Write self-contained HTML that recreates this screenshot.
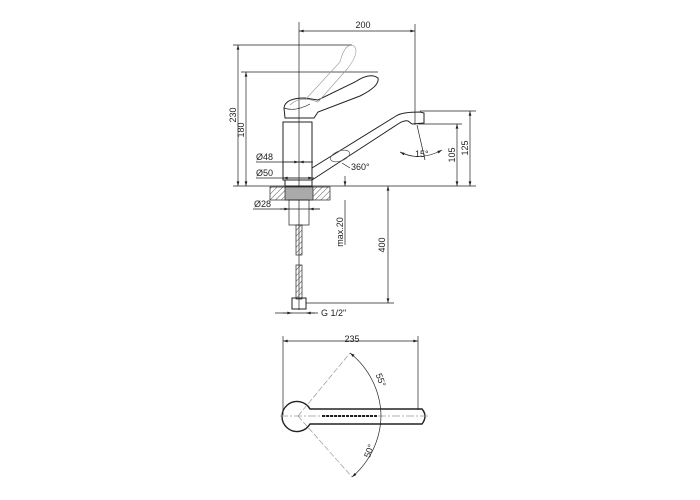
<!DOCTYPE html>
<html><head><style>body{margin:0;background:#fff}svg{display:block}text{font-family:"Liberation Sans",sans-serif;font-size:9px;fill:#222}</style></head>
<body>
<svg width="700" height="500" viewBox="0 0 700 500" xmlns="http://www.w3.org/2000/svg">
<defs>
<marker id="a" viewBox="0 0 10 6" refX="10" refY="3" markerWidth="8" markerHeight="4" orient="auto-start-reverse"><path d="M0,0L10,3L0,6z" fill="#222"/></marker>
<pattern id="h" width="4" height="4" patternUnits="userSpaceOnUse" patternTransform="rotate(45)"><line x1="0" y1="0" x2="0" y2="4" stroke="#555" stroke-width="1"/></pattern>
</defs>
<g stroke="#222" stroke-width="0.7" fill="none">
<line x1="299" y1="22" x2="299" y2="310"/>
<line x1="415" y1="24" x2="415" y2="125"/>
<line x1="233" y1="45" x2="352" y2="45"/>
<line x1="241" y1="72" x2="378" y2="72"/>
<line x1="233" y1="186" x2="476" y2="186"/>
<line x1="420" y1="111" x2="476" y2="111"/>
<line x1="418" y1="124" x2="462" y2="124"/>
<line x1="306" y1="303" x2="394" y2="303"/>
<line x1="299" y1="31" x2="415" y2="31" marker-start="url(#a)" marker-end="url(#a)"/>
<line x1="238" y1="45" x2="238" y2="186" marker-start="url(#a)" marker-end="url(#a)"/>
<line x1="246" y1="72" x2="246" y2="186" marker-start="url(#a)" marker-end="url(#a)"/>
<line x1="470" y1="111" x2="470" y2="186" marker-start="url(#a)" marker-end="url(#a)"/>
<line x1="457" y1="124" x2="457" y2="186" marker-start="url(#a)" marker-end="url(#a)"/>
<line x1="388" y1="186" x2="388" y2="303" marker-start="url(#a)" marker-end="url(#a)"/>
<line x1="345" y1="176" x2="345" y2="186" marker-end="url(#a)"/>
<line x1="345" y1="200" x2="345" y2="245"/>
<line x1="256" y1="162" x2="313" y2="162"/>
<line x1="283" y1="162" x2="299" y2="162" marker-end="url(#a)"/>
<line x1="312" y1="162" x2="299" y2="162" marker-end="url(#a)"/>
<line x1="256" y1="178" x2="314" y2="178"/>
<line x1="298" y1="178" x2="283" y2="178" marker-end="url(#a)"/>
<line x1="299" y1="178" x2="313" y2="178" marker-end="url(#a)"/>
<line x1="253" y1="209" x2="320" y2="209"/>
<line x1="280" y1="209" x2="289" y2="209" marker-end="url(#a)"/>
<line x1="320" y1="209" x2="309" y2="209" marker-end="url(#a)"/>
<line x1="275" y1="313" x2="318" y2="313"/>
<line x1="283" y1="313" x2="292" y2="313" marker-end="url(#a)"/>
<line x1="315" y1="313" x2="306" y2="313" marker-end="url(#a)"/>
<path d="M400,152 Q420,162 442,150" marker-start="url(#a)" marker-end="url(#a)"/>
<line x1="417" y1="125" x2="425" y2="160"/>
<rect x="283" y="122" width="29" height="58" stroke-width="1"/>
<rect x="285" y="180" width="27" height="6" stroke-width="1"/>
<path d="M284,108 Q285,98 305,98 L318,100 L355,82 Q370,72 378,78 Q380,86 360,96 L318,112 L314,118 L285,118 Z" stroke-width="1"/>
<path d="M284,108 Q295,112 310,104" />
<path d="M290,105 Q300,95 318,102" stroke="#999"/>
<path d="M305,100 L340,62 Q345,42 354,46 Q360,52 348,68 L318,102" stroke="#999" stroke-width="0.6"/>
<path d="M312,168 L396,116 Q402,112 420,112 L424,113 L424,123 L412,124 L408,121 Q404,120 398,124 L312,180" stroke-width="1"/>
<ellipse cx="340" cy="156" rx="10" ry="5" transform="rotate(-20 340 156)" stroke="#555"/>
<line x1="342" y1="163" x2="350" y2="168"/>
<rect x="270" y="187" width="60" height="13" fill="url(#h)"/>
<rect x="285" y="187" width="28" height="13" fill="#aaa"/>
<rect x="289" y="200" width="20" height="25"/>
<rect x="296" y="225" width="6" height="30" fill="url(#h)"/>
<rect x="296" y="265" width="6" height="34" fill="url(#h)"/>
<rect x="292" y="298" width="14" height="11" stroke-width="1"/>
<line x1="283" y1="341" x2="418" y2="341" marker-start="url(#a)" marker-end="url(#a)"/>
<line x1="283" y1="336" x2="283" y2="415"/>
<line x1="418" y1="336" x2="418" y2="410"/>
<path d="M310,409 L422,409 Q428,416 422,424 L310,424 A15,15 0 1 1 310,409 Z" stroke-width="1.4"/>
<line x1="280" y1="416" x2="430" y2="416" stroke="#999" stroke-dasharray="8,2,2,2"/>
<line x1="322" y1="416" x2="378" y2="416" stroke-width="2" stroke-dasharray="3,1"/>
<line x1="298" y1="416" x2="350" y2="353" stroke="#999" stroke-dasharray="6,2"/>
<line x1="298" y1="416" x2="352" y2="477" stroke="#999" stroke-dasharray="6,2"/>
<path d="M350,353 A82,82 0 0 1 381,416 A82,82 0 0 1 352,477" marker-start="url(#a)" marker-end="url(#a)"/>
</g>
<text x="363" y="28" text-anchor="middle">200</text>
<text x="236" y="115" transform="rotate(-90 236 115)" text-anchor="middle">230</text>
<text x="244" y="130" transform="rotate(-90 244 130)" text-anchor="middle">180</text>
<text x="468" y="148" transform="rotate(-90 468 148)" text-anchor="middle">125</text>
<text x="455" y="155" transform="rotate(-90 455 155)" text-anchor="middle">105</text>
<text x="385" y="245" transform="rotate(-90 385 245)" text-anchor="middle">400</text>
<text x="343" y="232" transform="rotate(-90 343 232)" text-anchor="middle">max.20</text>
<text x="256" y="160">Ø48</text>
<text x="256" y="176">Ø50</text>
<text x="254" y="207">Ø28</text>
<text x="321" y="316">G 1/2"</text>
<text x="351" y="170">360°</text>
<text x="415" y="157">15°</text>
<text x="352" y="342" text-anchor="middle">235</text>
<text x="378" y="381" transform="rotate(70 378 381)" text-anchor="middle">55°</text>
<text x="372" y="452" transform="rotate(-70 372 452)" text-anchor="middle">50°</text>
</svg>
</body></html>
